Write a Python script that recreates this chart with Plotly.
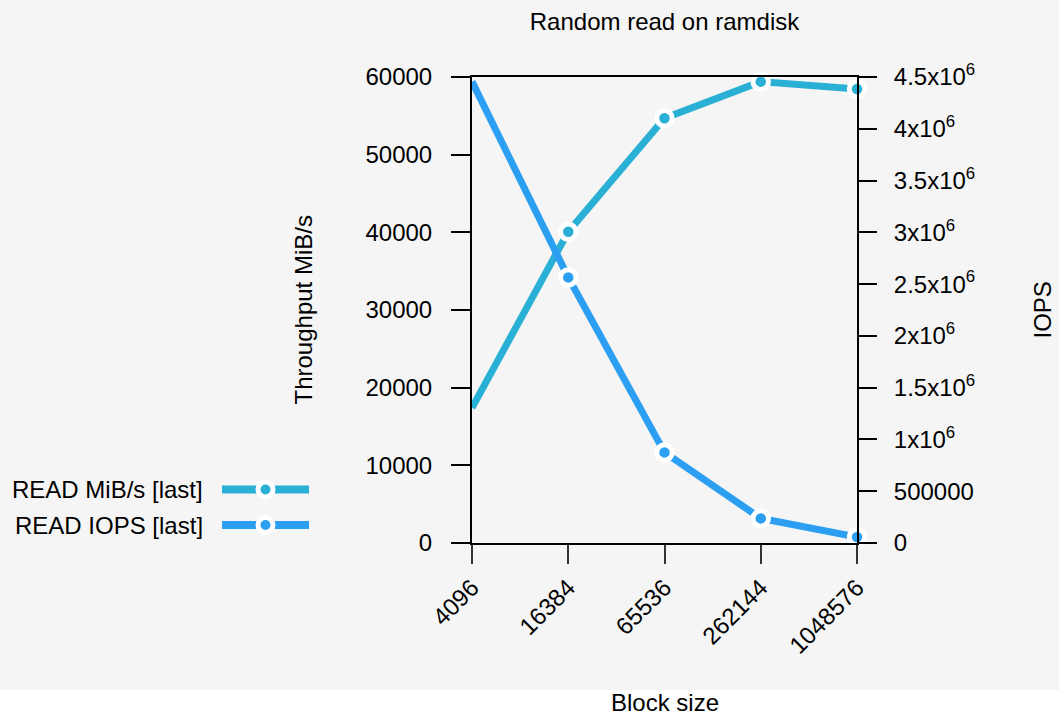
import math
import plotly.graph_objects as go

# ---- data ----
block_sizes = [4096, 16384, 65536, 262144, 1048576]
block_labels = ["4096", "16384", "65536", "262144", "1048576"]
read_mibs = [17400, 40080, 54690, 59400, 58450]
read_iops = [4455000, 2565000, 875000, 237600, 58400]
series_names = ["READ MiB/s [last]", "READ IOPS [last]"]
series_colors = ["#2ab0d5", "#2c9ff2"]

left_ticks = [0, 10000, 20000, 30000, 40000, 50000, 60000]
left_ticktext = ["0", "10000", "20000", "30000", "40000", "50000", "60000"]
right_ticks = [0, 500000, 1000000, 1500000, 2000000, 2500000, 3000000,
               3500000, 4000000, 4500000]
right_ticktext = ["0", "500000", "1x10<sup>6</sup>", "1.5x10<sup>6</sup>",
                  "2x10<sup>6</sup>", "2.5x10<sup>6</sup>", "3x10<sup>6</sup>",
                  "3.5x10<sup>6</sup>", "4x10<sup>6</sup>", "4.5x10<sup>6</sup>"]

title_text = "Random read on ramdisk"
x_title = "Block size"
y_title = "Throughput MiB/s"
y2_title = "IOPS"

# ---- layout geometry (pixels) ----
W, H = 1059, 713
L, R, T, B = 472, 857, 77, 543
PW, PH = R - L, B - T
FONT = "Liberation Sans, Arial, Helvetica, sans-serif"
FS = 24


def px_x(px):
    return (px - L) / PW


def px_y(py):
    return (B - py) / PH


fig = go.Figure()

series_values = [read_mibs, read_iops]
series_axes = ["y", "y2"]
for name, vals, ax, col in zip(series_names, series_values, series_axes, series_colors):
    fig.add_trace(go.Scatter(
        x=block_sizes, y=vals, name=name, yaxis=ax, mode="lines+markers",
        line=dict(color=col, width=7),
        marker=dict(size=15.5, color=col, line=dict(color="white", width=5)),
        cliponaxis=False, showlegend=False, hoverinfo="skip",
    ))

shapes = [
    dict(type="rect", xref="paper", yref="paper", x0=-3, x1=3,
         y0=px_y(690), y1=px_y(900), fillcolor="white", line=dict(width=0),
         layer="below"),
]
annotations = [
    dict(text=x_title, xref="paper", yref="paper", x=0.5, y=px_y(702),
         xanchor="center", yanchor="middle", showarrow=False,
         font=dict(size=FS, family=FONT, color="black")),
    dict(text=y_title, xref="paper", yref="paper", x=px_x(302.5), y=0.5,
         xanchor="center", yanchor="middle", showarrow=False, textangle=-90,
         font=dict(size=FS, family=FONT, color="black")),
    dict(text=y2_title, xref="paper", yref="paper", x=px_x(1041.5), y=0.5,
         xanchor="center", yanchor="middle", showarrow=False, textangle=-90,
         font=dict(size=FS, family=FONT, color="black")),
]

# manual legend: text on the left, line+marker key on the right
leg_y0, leg_dy = 489.5, 35.5
for i, (name, col) in enumerate(zip(series_names, series_colors)):
    yy = px_y(leg_y0 + i * leg_dy)
    annotations.append(dict(text=name, xref="paper", yref="paper", x=px_x(205),
                            y=yy, xanchor="right", yanchor="middle",
                            showarrow=False,
                            font=dict(size=FS, family=FONT, color="black")))
    shapes.append(dict(type="line", xref="paper", yref="paper", x0=px_x(222),
                       x1=px_x(309), y0=yy, y1=yy,
                       line=dict(color=col, width=8), layer="above"))
    shapes.append(dict(type="circle", xref="paper", yref="paper",
                       xsizemode="pixel", ysizemode="pixel",
                       xanchor=px_x(265.5), yanchor=yy,
                       x0=-7.5, x1=7.5, y0=-7.5, y1=7.5,
                       fillcolor=col, line=dict(color="white", width=5),
                       layer="above"))

fig.update_layout(
    width=W, height=H,
    margin=dict(l=L, r=W - R, t=T, b=H - B, pad=0),
    paper_bgcolor="#f5f5f5", plot_bgcolor="#f5f5f5",
    font=dict(family=FONT, size=FS, color="black"),
    title=dict(text=title_text, x=0.5, xref="paper", xanchor="center",
               y=1 - 22 / H, yref="container", yanchor="middle",
               font=dict(size=FS, family=FONT, color="black")),
    showlegend=False,
    shapes=shapes, annotations=annotations,
    xaxis=dict(type="log", range=[math.log10(block_sizes[0]), math.log10(block_sizes[-1])],
               tickmode="array", tickvals=block_sizes, ticktext=block_labels,
               tickangle=-45, ticks="outside", ticklen=19, tickwidth=1.5,
               tickcolor="#333333", showline=True, mirror=True,
               linecolor="black", linewidth=2, showgrid=False, zeroline=False,
               ticklabelstandoff=0, automargin=False,
               tickfont=dict(size=FS, family=FONT, color="black")),
    yaxis=dict(range=[0, 60000], tickmode="array", tickvals=left_ticks,
               ticktext=left_ticktext,
               ticks="outside", ticklen=19, tickwidth=1.5, tickcolor="black",
               showline=True, linecolor="black", linewidth=2, showgrid=False,
               zeroline=False, ticklabelstandoff=14, automargin=False,
               tickfont=dict(size=FS, family=FONT, color="black")),
    yaxis2=dict(range=[0, 4500000], overlaying="y", side="right",
                tickmode="array", tickvals=right_ticks, ticktext=right_ticktext,
                ticks="outside", ticklen=18, tickwidth=1.5, tickcolor="black",
                showline=True, linecolor="black", linewidth=2, showgrid=False,
                zeroline=False, ticklabelstandoff=12, automargin=False,
                tickfont=dict(size=FS, family=FONT, color="black")),
)

fig.write_html("out.html", config={"displayModeBar": False},
               post_script="document.body.style.margin='0';document.body.style.overflow='hidden';")
